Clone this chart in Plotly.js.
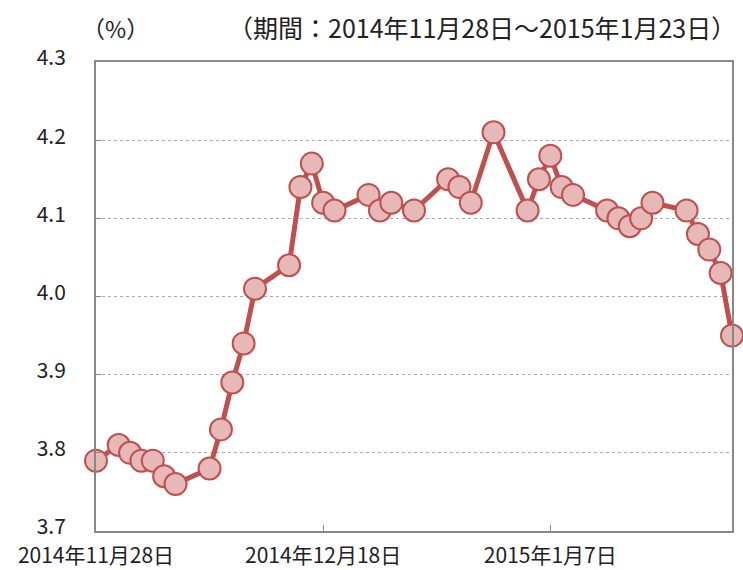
<!DOCTYPE html>
<html><head><meta charset="utf-8">
<script src="https://cdn.plot.ly/plotly-3.0.1.min.js"></script>
<style>html,body{margin:0;padding:0;background:#fff}#c{width:743px;height:570px}</style>
</head><body><div id="c"></div>
<script>
const dates = ['2014-11-28','2014-11-30','2014-12-01','2014-12-02','2014-12-03','2014-12-04','2014-12-05',
 '2014-12-08','2014-12-09','2014-12-10','2014-12-11','2014-12-12',
 '2014-12-15','2014-12-16','2014-12-17','2014-12-18','2014-12-19',
 '2014-12-22','2014-12-23','2014-12-24','2014-12-26',
 '2014-12-29','2014-12-30','2014-12-31','2015-01-02',
 '2015-01-05','2015-01-06','2015-01-07','2015-01-08','2015-01-09',
 '2015-01-12','2015-01-13','2015-01-14','2015-01-15','2015-01-16',
 '2015-01-19','2015-01-20','2015-01-21','2015-01-22','2015-01-23'];
const values = [3.79,3.81,3.80,3.79,3.79,3.77,3.76,
 3.78,3.83,3.89,3.94,4.01,
 4.04,4.14,4.17,4.12,4.11,
 4.13,4.11,4.12,4.11,
 4.15,4.14,4.12,4.21,
 4.11,4.15,4.18,4.14,4.13,
 4.11,4.10,4.09,4.10,4.12,
 4.11,4.08,4.06,4.03,3.95];
const tickDates = ['2014-11-28','2014-12-18','2015-01-07'];
const tickLabels = ['2014年11月28日','2014年12月18日','2015年1月7日'];
const yTicks = [3.7,3.8,3.9,4.0,4.1,4.2,4.3];
const unitLabel = '（%）';
const periodLabel = '（期間：2014年11月28日～2015年1月23日）';

const font = 'Noto Sans CJK JP, sans-serif';
const trace = {
  type:'scatter', mode:'lines+markers', x:dates, y:values,
  line:{color:'#C0504D', width:5},
  marker:{size:22, color:'#E6B8B7', line:{color:'#C0504D', width:2}},
  cliponaxis:false, hoverinfo:'skip'
};
const layout = {
  width:743, height:570,
  margin:{l:96, r:11, t:62, b:39},
  paper_bgcolor:'#fff', plot_bgcolor:'#fff',
  showlegend:false,
  font:{family:font, color:'#222', size:21},
  xaxis:{type:'date', range:['2014-11-28','2015-01-23'],
    tickvals:tickDates, ticktext:tickLabels,
    ticks:'inside', ticklen:6, tickcolor:'#888', tickwidth:1,
    showgrid:false, zeroline:false,
    showline:true, linecolor:'#888', linewidth:2, mirror:true,
    ticklabelstandoff:5,
    tickfont:{family:font, size:21, color:'#222'}},
  yaxis:{range:[3.7,4.3], tickvals:yTicks, ticktext:yTicks.map(v=>v.toFixed(1)),
    ticks:'inside', ticklen:5, tickcolor:'#888',
    showgrid:true, gridcolor:'#aaa', griddash:'dot', gridwidth:1,
    zeroline:false, showline:true, linecolor:'#888', linewidth:2, mirror:true,
    ticklabelstandoff:24, ticklabelshift:-4,
    tickfont:{family:font, size:21, color:'#222'}},
  annotations:[
    {xref:'paper', yref:'paper', x:-0.025, y:1.0, yshift:34, xanchor:'left', yanchor:'middle',
     text:unitLabel, showarrow:false, font:{family:font, size:23, color:'#222'}},
    {xref:'paper', yref:'paper', x:1.0, y:1.0, yshift:35, xshift:6, xanchor:'right', yanchor:'middle',
     text:periodLabel, showarrow:false, font:{family:font, size:25, color:'#222'}}
  ]
};
Plotly.newPlot('c',[trace],layout,{displayModeBar:false, staticPlot:true});
</script></body></html>
